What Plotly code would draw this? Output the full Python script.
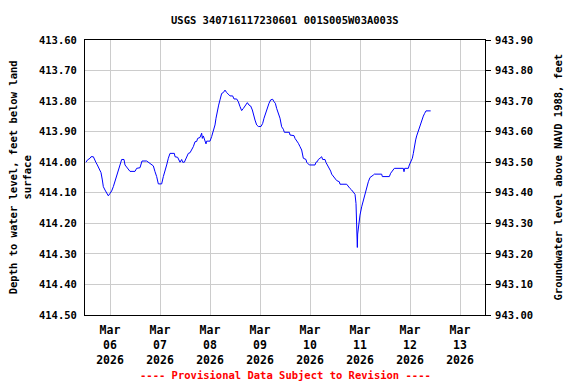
import pandas as pd
import plotly.graph_objects as go

# Hours since 2026-03-06 00:00 and depth to water level (ft below land surface)
hours = [-11.52, -10.88, -9.6, -9.12, -8.0, -7.52, -6.72, -6.08, -5.28, -4.32, -3.68, -3.2, -2.4, -1.6, -0.8,
         0.0, 0.8, 1.6, 2.4, 3.2, 4.0, 4.8, 5.6, 6.72, 7.2, 8.0, 8.8, 9.6, 12.0, 12.8, 14.4, 14.88, 15.36,
         17.6, 18.4, 20.0, 20.8, 21.6, 22.4, 23.2, 24.8, 25.6, 26.4, 27.2, 28.0, 28.8, 30.88, 31.2, 32.48,
         33.12, 33.6, 34.4, 34.88, 35.68, 36.48, 37.6, 38.4, 39.2, 40.0, 40.8, 41.6, 42.08, 43.2, 44.0,
         44.32, 44.8, 45.6, 46.08, 46.4, 48.0, 48.8, 49.6, 50.4, 50.88, 51.52, 52.16, 52.8, 53.6, 54.4,
         55.2, 56.0, 56.8, 57.6, 58.88, 59.52, 60.8, 61.6, 62.4, 63.2, 64.0, 64.8, 65.92, 66.72, 67.52,
         68.32, 68.8, 69.6, 70.4, 71.2, 72.48, 73.28, 73.92, 74.72, 75.52, 76.32, 77.12, 78.08, 78.72,
         79.36, 80.0, 80.8, 81.6, 82.4, 83.2, 83.68, 86.08, 86.4, 88.32, 88.8, 89.6, 90.4, 91.2, 92.0,
         92.8, 94.08, 94.4, 95.68, 98.4, 98.88, 99.52, 100.0, 100.8, 101.6, 102.08, 103.2, 103.68, 104.32,
         105.28, 105.92, 106.4, 107.2, 108.0, 108.8, 110.08, 110.4, 113.6, 114.4, 115.2, 116.0, 116.8,
         117.6, 118.08, 118.4, 118.72, 118.88, 119.36, 120.0, 120.8, 121.6, 122.4, 123.2, 124.0, 124.8,
         125.6, 126.4, 126.88, 130.4, 130.72, 134.08, 134.72, 135.68, 136.48, 140.8, 141.12, 141.44,
         143.2, 143.68, 144.48, 145.12, 145.6, 146.08, 146.72, 147.2, 147.84, 148.48, 149.12, 149.76,
         150.4, 151.04, 151.68, 153.92]
depth = [414.000, 413.993, 413.987, 413.982, 413.982, 413.991, 414.001, 414.009, 414.020, 414.034, 414.058,
         414.080, 414.091, 414.102, 414.110, 414.102, 414.094, 414.080, 414.064, 414.042, 414.026, 414.009,
         413.991, 413.991, 414.009, 414.015, 414.023, 414.030, 414.030, 414.020, 414.018, 414.004, 413.996,
         413.996, 414.000, 414.006, 414.012, 414.031, 414.047, 414.071, 414.071, 414.047, 414.031, 414.009,
         413.987, 413.971, 413.971, 413.982, 413.984, 413.996, 414.000, 413.991, 414.000, 414.000, 413.985,
         413.971, 413.969, 413.960, 413.949, 413.933, 413.932, 413.922, 413.919, 413.905, 413.922, 413.914,
         413.927, 413.940, 413.931, 413.931, 413.916, 413.900, 413.878, 413.856, 413.829, 413.813, 413.796,
         413.775, 413.772, 413.764, 413.772, 413.777, 413.783, 413.783, 413.793, 413.793, 413.802, 413.818,
         413.831, 413.824, 413.816, 413.805, 413.813, 413.816, 413.829, 413.846, 413.862, 413.878, 413.883,
         413.883, 413.873, 413.856, 413.838, 413.818, 413.807, 413.796, 413.794, 413.802, 413.807, 413.824,
         413.840, 413.856, 413.884, 413.892, 413.902, 413.902, 413.911, 413.913, 413.922, 413.929, 413.938,
         413.949, 413.960, 413.987, 413.991, 414.000, 414.009, 414.009, 414.000, 413.998, 413.991, 413.987,
         413.982, 413.991, 413.991, 414.001, 414.009, 414.017, 414.029, 414.039, 414.047, 414.053, 414.060,
         414.064, 414.072, 414.072, 414.080, 414.086, 414.091, 414.100, 414.105, 414.135, 414.279, 414.279,
         414.235, 414.198, 414.173, 414.146, 414.124, 414.102, 414.080, 414.064, 414.050, 414.047, 414.042,
         414.039, 414.039, 414.047, 414.047, 414.036, 414.028, 414.020, 414.020, 414.031, 414.020, 414.020,
         414.009, 413.998, 413.987, 413.971, 413.944, 413.927, 413.914, 413.900, 413.884, 413.871, 413.856,
         413.849, 413.840, 413.832, 413.832]

tick_dates = ["2026-03-06", "2026-03-07", "2026-03-08", "2026-03-09",
              "2026-03-10", "2026-03-11", "2026-03-12", "2026-03-13"]
tick_text = ["Mar<br>06<br>2026", "Mar<br>07<br>2026", "Mar<br>08<br>2026", "Mar<br>09<br>2026",
             "Mar<br>10<br>2026", "Mar<br>11<br>2026", "Mar<br>12<br>2026", "Mar<br>13<br>2026"]
left_ticks = [413.6, 413.7, 413.8, 413.9, 414.0, 414.1, 414.2, 414.3, 414.4, 414.5]
right_ticks = [943.0, 943.1, 943.2, 943.3, 943.4, 943.5, 943.6, 943.7, 943.8, 943.9]
datum_offset = 1357.5  # elevation = offset - depth

base = pd.Timestamp("2026-03-06 00:00")
times = [base + pd.Timedelta(hours=h) for h in hours]
elev = [datum_offset - d for d in depth]


def bold(s):
    return "<b>" + s + "</b>"


FONT = "DejaVu Sans Mono"
fnt = dict(family=FONT, size=10.5, color="black")
xfnt = dict(family=FONT, size=11.5, color="black")

fig = go.Figure()
fig.add_trace(go.Scatter(x=times, y=depth, mode="lines",
                         line=dict(color="#0000FF", width=1), yaxis="y", hoverinfo="skip"))
fig.add_trace(go.Scatter(x=times, y=elev, mode="lines",
                         line=dict(color="rgba(0,0,0,0)", width=0), yaxis="y2", hoverinfo="skip"))

fig.update_layout(
    width=576, height=384,
    margin=dict(l=85, r=91, t=40, b=69),
    paper_bgcolor="white", plot_bgcolor="white",
    showlegend=False,
    font=fnt,
    xaxis=dict(
        range=[pd.Timestamp("2026-03-05 12:00"), pd.Timestamp("2026-03-13 12:00")],
        tickvals=[pd.Timestamp(d) for d in tick_dates],
        ticktext=[bold(t) for t in tick_text],
        showgrid=True, gridcolor="#cccccc", gridwidth=1,
        showline=True, linecolor="black", linewidth=1, mirror=True,
        ticks="", tickfont=xfnt, zeroline=False, ticklabelstandoff=4,
    ),
    yaxis=dict(
        range=[414.5, 413.6], tickvals=left_ticks,
        ticktext=[bold(f"{v:.2f}") for v in left_ticks],
        showgrid=True, gridcolor="#cccccc", gridwidth=1,
        showline=True, linecolor="black", linewidth=1, mirror=True,
        ticks="", tickfont=fnt, zeroline=False, ticklabelstandoff=5,
    ),
    yaxis2=dict(
        range=[943.0, 943.9], tickvals=right_ticks,
        ticktext=[bold(f"{v:.2f}") for v in right_ticks],
        overlaying="y", side="right", showgrid=False,
        ticks="outside", ticklen=5, tickcolor="black", tickfont=fnt, zeroline=False,
        ticklabelstandoff=2,
    ),
    annotations=[
        dict(text=bold("USGS 340716117230601 001S005W03A003S"), xref="paper", yref="paper",
             x=0.5, y=1.0727, xanchor="center", yanchor="middle", showarrow=False, font=fnt),
        dict(text=bold("Depth to water level, feet below land<br>surface"), xref="paper", yref="paper",
             x=-0.163, y=0.5, xanchor="center", yanchor="middle", textangle=-90, showarrow=False,
             font=fnt),
        dict(text=bold("Groundwater level above NAVD 1988, feet"), xref="paper", yref="paper",
             x=1.18, y=0.5, xanchor="center", yanchor="middle", textangle=-90, showarrow=False,
             font=fnt),
        dict(text=bold("---- Provisional Data Subject to Revision ----"), xref="paper", yref="paper",
             x=0.5, y=-0.218, xanchor="center", yanchor="middle", showarrow=False,
             font=dict(family=FONT, size=10.5, color="red")),
    ],
)

fig.write_html("out.html", config={"displayModeBar": False},
               post_script="document.body.style.margin='0px';")
